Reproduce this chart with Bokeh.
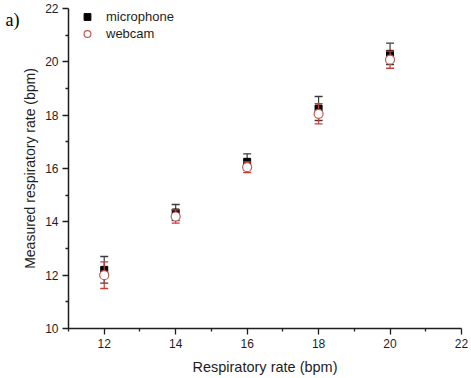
from bokeh.plotting import figure
from bokeh.models import ColumnDataSource, Range1d, FixedTicker, Label, Legend, LegendItem
from bokeh.embed import file_html
from bokeh.resources import INLINE

# ---- data ----
set_rate = [12, 14, 16, 18, 20]
mic_rate = [12.2, 14.35, 16.25, 18.25, 20.3]
mic_err = [0.5, 0.3, 0.3, 0.45, 0.4]
cam_rate = [12.0, 14.2, 16.05, 18.05, 20.08]
cam_err = [0.5, 0.25, 0.2, 0.38, 0.32]
x_major = [12, 14, 16, 18, 20, 22]
x_minor = [11, 13, 15, 17, 19, 21]
y_major = [10, 12, 14, 16, 18, 20, 22]
y_minor = [11, 13, 15, 17, 19, 21]

mic = ColumnDataSource(dict(
    x=set_rate, y=mic_rate,
    lo=[v - e for v, e in zip(mic_rate, mic_err)],
    hi=[v + e for v, e in zip(mic_rate, mic_err)],
))
cam = ColumnDataSource(dict(
    x=set_rate, y=cam_rate,
    lo=[v - e for v, e in zip(cam_rate, cam_err)],
    hi=[v + e for v, e in zip(cam_rate, cam_err)],
))

FONT = "Liberation Sans"
TXT = "#1e1e1e"
MIC_ERR = "#3c3c3c"
CAM_ERR = "#cc3b36"
CAM_EDGE = "#c25a54"

p = figure(
    frame_width=393, frame_height=320,
    x_range=Range1d(11, 22), y_range=Range1d(10, 22),
    output_backend="svg", toolbar_location=None,
    min_border_left=68, min_border_right=10, min_border_top=8, min_border_bottom=50,
)
p.outline_line_color = None
p.xgrid.grid_line_color = None
p.ygrid.grid_line_color = None
p.background_fill_color = "white"
p.border_fill_color = "white"

for ax, maj, mnr in ((p.xaxis[0], x_major, x_minor), (p.yaxis[0], y_major, y_minor)):
    ax.ticker = FixedTicker(ticks=maj, minor_ticks=mnr)
    ax.axis_line_color = TXT
    ax.axis_line_width = 1.5
    ax.major_tick_line_color = TXT
    ax.major_tick_line_width = 1.3
    ax.minor_tick_line_color = TXT
    ax.minor_tick_line_width = 1.3
    ax.major_tick_in = 0
    ax.major_tick_out = 6
    ax.minor_tick_in = 0
    ax.minor_tick_out = 3
    ax.major_label_text_font = FONT
    ax.major_label_text_font_size = "12px"
    ax.major_label_text_color = TXT
    ax.axis_label_text_font = FONT
    ax.axis_label_text_font_size = "14px"
    ax.axis_label_text_font_style = "normal"
    ax.axis_label_text_color = TXT

p.xaxis.axis_label = "Respiratory rate (bpm)"
p.yaxis.axis_label = "Measured respiratory rate (bpm)"
p.xaxis.axis_label_text_font_size = "14.5px"
p.xaxis.major_label_standoff = 4
p.xaxis.axis_label_standoff = 8
p.yaxis.major_label_standoff = 4
p.yaxis.axis_label_standoff = 4

# microphone error bars + markers
p.segment(x0="x", y0="lo", x1="x", y1="hi", source=mic, line_color=MIC_ERR, line_width=1.2)
p.dash(x="x", y="lo", source=mic, size=8, line_color=MIC_ERR, line_width=1.3)
p.dash(x="x", y="hi", source=mic, size=8, line_color=MIC_ERR, line_width=1.3)
r_mic = p.scatter(x="x", y="y", source=mic, marker="square", size=7,
                  fill_color="black", line_color="black")

# webcam error bars + markers
p.segment(x0="x", y0="lo", x1="x", y1="hi", source=cam, line_color=CAM_ERR, line_width=1.2)
p.dash(x="x", y="lo", source=cam, size=8, line_color=CAM_ERR, line_width=1.3)
p.dash(x="x", y="hi", source=cam, size=8, line_color=CAM_ERR, line_width=1.3)
r_cam = p.scatter(x="x", y="y", source=cam, marker="circle", size=9,
                  fill_color="white", line_color=CAM_EDGE, line_width=1.2)

legend = Legend(items=[LegendItem(label="microphone", renderers=[r_mic]),
                       LegendItem(label="webcam", renderers=[r_cam])],
                location=(9, 286), orientation="vertical",
                border_line_color=None, background_fill_alpha=0,
                padding=0, margin=0, spacing=0,
                glyph_width=20, glyph_height=17, label_height=17,
                label_standoff=9,
                label_text_font=FONT, label_text_font_size="13px",
                label_text_color=TXT)
p.add_layout(legend, "center")

# panel tag "a)" in the left margin (canvas units, y measured from top)
p.add_layout(Label(x=12, y=19, x_units="canvas", y_units="canvas", text="a)",
                   text_align="center", text_baseline="middle",
                   text_font="Liberation Serif", text_font_size="18px",
                   text_color="black"), "left")

open("out.html", "w").write(file_html(p, INLINE))
